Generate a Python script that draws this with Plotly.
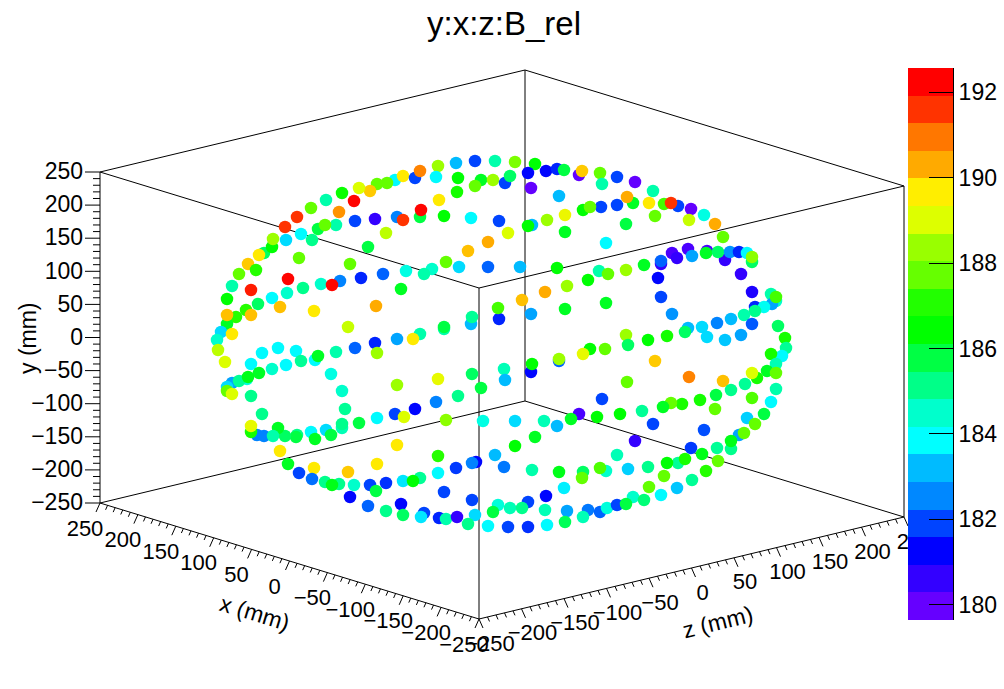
import plotly.graph_objects as go

TITLE = "y:x:z:B_rel"
FONT = "Liberation Sans"

# Points: position in the drawn oblique projection and B_rel value
proj_h = [
    395,397,403,387,377,370,359,342,354,326,
    311,339,297,355,375,403,318,336,325,285,
    301,386,312,286,264,272,273,368,259,299,
    248,350,256,239,288,340,361,383,406,
    415,420,438,436,456,475,495,515,535,528,
    546,557,564,579,582,600,602,458,481,493,
    475,505,510,457,531,559,439,420,421,444,
    471,499,601,583,590,565,547,532,528,508,
    565,488,468,446,606,432,459,488,520,557,
    599,608,424,588,
    617,635,653,617,633,627,649,678,664,671,
    691,704,655,626,689,715,723,707,688,672,
    677,692,706,725,718,730,739,747,752,752,
    661,661,644,626,658,741,
    232,251,227,272,287,303,321,332,401,280,
    314,376,258,246,236,227,227,251,348,221,
    232,217,218,225,375,397,355,377,336,296,
    278,262,315,318,301,286,251,272,247,232,
    239,259,248,227,227,232,251,331,342,397,
    345,395,262,
    545,567,522,499,498,531,565,606,471,472,
    444,444,420,413,590,605,583,559,559,531,
    532,504,505,472,481,438,458,436,415,602,
    752,771,776,661,772,755,764,776,755,744,
    731,717,752,672,688,702,685,707,725,741,
    778,785,786,782,771,776,626,628,648,667,
    655,627,689,723,757,767,776,752,745,731,
    716,700,682,671,663,715,752,776,771,642,
    620,764,
    404,377,359,342,342,326,311,331,315,297,
    296,285,278,257,264,273,251,251,280,397,
    288,314,377,348,299,312,325,339,332,354,
    370,386,403,376,350,401,368,386,403,
    446,483,515,544,557,579,571,597,535,515,
    495,438,476,472,456,504,532,559,583,582,
    606,600,438,420,413,444,564,472,546,528,
    498,510,522,493,545,567,588,600,607,424,
    421,439,446,457,475,468,488,508,528,547,
    565,583,
    653,704,739,744,747,755,731,731,717,635,
    691,702,678,685,718,667,617,648,628,706,
    664,692,677,649,661,633,644,617,626,
]
proj_v = [
    180,217,176,183,184,191,188,193,201,200,
    208,212,217,221,219,220,229,225,225,227,
    234,233,240,240,253,247,239,247,255,258,
    264,264,270,274,279,281,278,274,271,
    178,171,166,177,163,161,161,162,164,173,
    171,169,170,175,171,173,184,178,180,180,
    186,183,176,192,188,196,200,217,210,216,
    218,221,207,210,207,215,220,225,226,233,
    232,242,251,262,243,269,267,267,267,268,
    271,274,274,280,
    177,182,191,205,203,197,203,206,204,203,
    209,215,216,224,220,224,237,251,249,253,
    258,256,253,260,252,252,252,253,262,257,
    264,261,265,270,278,274,
    286,290,299,298,293,288,284,285,289,307,
    311,306,304,310,317,324,315,315,327,332,
    334,340,350,362,343,339,348,353,352,351,
    348,353,360,356,361,365,364,369,379,383,
    381,373,377,387,391,394,396,374,391,385,
    409,414,414,
    292,286,300,319,308,314,309,303,324,317,
    329,327,334,339,349,349,354,361,359,372,
    364,369,380,374,388,379,396,402,409,399,
    292,294,301,297,304,307,307,297,311,315,
    319,323,324,314,328,327,332,337,340,335,
    326,338,348,356,354,364,335,345,340,336,
    361,382,377,381,378,371,373,373,384,390,
    395,400,404,403,407,409,398,389,402,411,
    414,414,
    417,418,423,428,424,430,432,435,439,435,
    437,436,428,435,436,436,432,426,451,445,
    464,468,464,472,473,479,482,484,485,485,
    485,483,481,491,497,504,506,511,515,
    420,421,421,421,426,414,419,417,437,446,
    455,456,462,463,468,467,470,472,472,478,
    471,468,473,478,481,492,488,500,496,502,
    505,508,508,512,510,511,510,512,508,513,
    517,518,519,517,515,524,526,527,527,525,
    522,517,
    424,430,435,433,418,424,449,441,448,441,
    448,454,463,459,461,463,455,467,469,471,
    476,480,488,487,495,497,500,505,504,
]
B_rel = [
    183.8,182.5,189.7,187.7,187.7,190.0,189.0,186.6,192.2,184.8,
    187.7,190.6,191.6,181.9,180.6,191.6,185.8,184.8,187.7,191.6,
    183.8,188.7,185.1,183.5,185.5,186.4,188.4,185.8,189.7,187.7,
    190.0,187.7,187.1,187.7,192.2,182.5,181.6,182.2,184.2,
    181.9,190.8,188.4,183.8,183.2,181.9,184.8,188.0,186.4,181.3,
    181.3,181.6,185.8,180.0,190.0,187.7,184.8,186.4,186.1,188.4,
    187.7,181.9,185.5,186.8,180.0,183.2,189.7,185.8,192.2,186.4,
    183.8,181.9,181.9,186.4,187.7,189.3,188.4,183.2,186.4,189.0,
    186.1,190.3,190.1,187.7,183.8,184.5,183.5,182.2,183.2,186.4,
    184.8,187.7,184.8,186.4,
    181.9,180.0,184.8,181.9,186.1,190.3,189.7,181.9,187.4,191.6,
    180.0,184.2,187.7,185.8,188.8,190.3,187.7,180.3,180.3,180.3,
    180.6,182.9,186.1,180.6,185.5,182.7,181.6,183.8,185.5,188.2,
    180.6,182.2,186.1,188.4,181.3,180.6,
    184.8,191.9,186.4,183.8,184.5,185.1,184.5,192.2,186.1,190.1,
    189.7,190.3,185.5,187.1,187.1,186.1,190.1,190.1,188.8,183.5,
    189.7,184.5,188.7,189.0,181.6,182.9,182.2,188.4,184.8,183.8,
    183.8,183.8,183.8,186.1,185.0,183.8,183.8,184.5,184.2,182.9,
    185.0,186.1,186.2,183.5,187.7,189.0,185.1,184.2,184.5,188.4,
    185.0,181.9,185.1,
    190.3,188.4,190.1,181.6,187.4,182.9,186.1,186.1,183.2,185.0,
    184.8,185.8,184.8,189.7,186.4,187.7,189.2,182.2,188.4,181.3,
    186.4,184.7,183.2,185.5,185.8,189.2,185.1,182.5,181.3,181.9,
    180.9,184.8,184.5,181.9,182.9,181.6,184.0,187.4,185.1,184.8,
    183.2,182.5,182.1,182.7,183.2,183.5,185.5,183.5,183.3,182.9,
    185.5,186.8,185.0,183.8,186.8,184.7,188.4,185.5,186.4,186.8,
    190.0,187.7,190.8,190.1,186.8,186.1,187.7,189.0,185.0,185.1,
    185.8,186.8,186.9,187.7,186.1,187.7,187.5,184.8,183.8,185.0,
    186.4,185.8,
    189.0,183.8,185.8,184.7,185.1,183.5,183.8,185.8,186.1,185.1,
    185.8,185.5,186.1,182.5,182.5,184.8,186.8,189.2,189.7,189.7,
    186.1,189.7,189.7,190.0,181.9,182.3,185.1,185.1,186.2,184.5,
    181.9,181.7,183.6,185.8,181.3,181.3,182.2,185.1,185.5,
    188.2,184.2,183.5,184.7,183.2,180.3,186.1,186.4,186.1,186.4,
    183.2,187.1,181.3,182.5,181.8,182.4,184.8,186.2,185.5,187.7,
    184.5,187.5,183.8,185.0,186.4,181.9,183.7,181.9,181.3,181.9,
    184.3,184.7,185.1,185.8,184.7,182.9,182.4,182.2,184.3,181.9,
    183.6,181.6,184.8,180.6,183.5,185.1,183.8,181.9,181.7,183.8,
    185.6,184.7,
    181.9,182.0,182.9,187.7,183.4,187.7,185.1,186.2,185.0,180.6,
    181.8,186.2,185.0,186.9,187.7,186.4,184.7,185.1,183.4,187.1,
    187.7,185.0,183.3,187.7,183.8,184.5,185.3,181.9,185.8,
]
assert len(proj_h) == len(proj_v) == len(B_rel)

# Palette bands of the colour bar, bottom to top, and its value range
palette = ["#6600ff","#3300ff","#0000ff","#0044ff","#0088ff","#00bbff","#00ffff",
           "#00ffcc","#00ff88","#00ff44","#00ff00","#22ff00","#66ff00","#99ff00",
           "#ddff00","#ffee00","#ffaa00","#ff7700","#ff3300","#ff0000"]
B_min, B_max = 179.64, 192.57
bar_ticks = [180, 182, 184, 186, 188, 190, 192]
axis_major = [-250, -200, -150, -100, -50, 0, 50, 100, 150, 200, 250]
axis_minor = list(range(-250, 251, 10))


def project(x, y, z):
    a, c = (x + 250) / 500, (z + 250) / 500
    return (479 - 379 * a + 425 * c,
            619 - 116 * a - 102 * c - 331 * (y + 250) / 500)


def label(v):
    return str(v).replace("-", "\u2212")


def segs(pairs):
    xs, ys = [], []
    for (x0, y0), (x1, y1) in pairs:
        xs += [x0, x1, None]
        ys += [y0, y1, None]
    return xs, ys


fig = go.Figure()

# Box edges
L, H = -250, 250
edges = [
    (project(H, H, L), project(L, H, L)), (project(L, H, L), project(L, H, H)),
    (project(L, H, H), project(H, H, H)), (project(H, H, H), project(H, H, L)),
    (project(H, L, L), project(L, L, L)), (project(L, L, L), project(L, L, H)),
    (project(L, L, H), project(H, L, H)), (project(H, L, H), project(H, L, L)),
    (project(H, L, L), project(H, H, L)), (project(L, L, L), project(L, H, L)),
    (project(L, L, H), project(L, H, H)), (project(H, L, H), project(H, H, H)),
]
# Ticks
for v in axis_minor:
    major = v in axis_major
    f = 1.0 if major else 0.5
    p = project(v, L, L)
    edges.append((p, (p[0] - 4 * f, p[1] + 9 * f)))
    p = project(L, L, v)
    edges.append((p, (p[0] + 4 * f, p[1] + 9 * f)))
    p = project(H, v, L)
    edges.append((p, (p[0] - (15 if major else 7), p[1])))
ex, ey = segs(edges)
fig.add_trace(go.Scatter(x=ex, y=ey, mode="lines", line=dict(color="black", width=1),
                         hoverinfo="skip", showlegend=False))

# Tick labels
tick_font = dict(family=FONT, size=23, color="black")
base_font = dict(family=FONT, size=22, color="black")
lx, ly, lt = [], [], []
for v in axis_major:
    p = project(v, L, L)
    lx.append(p[0] - 15); ly.append(p[1] + 27); lt.append(label(v))
    p = project(L, L, v)
    lx.append(p[0] + 11); ly.append(p[1] + 26); lt.append(label(v))
fig.add_trace(go.Scatter(x=lx, y=ly, text=lt, mode="text", textposition="middle center",
                         textfont=base_font, hoverinfo="skip", showlegend=False, cliponaxis=False))
yx, yy, yt = [], [], []
for v in axis_major:
    p = project(H, v, L)
    yx.append(p[0] - 17); yy.append(p[1] + 1.5); yt.append(label(v))
fig.add_trace(go.Scatter(x=yx, y=yy, text=yt, mode="text", textposition="middle left",
                         textfont=tick_font, hoverinfo="skip", showlegend=False, cliponaxis=False))

# Points, coloured by B_rel through the palette
n = len(palette)
scale = [[0, palette[0]]] + [[(i + 0.5) / n, c] for i, c in enumerate(palette)] + [[1, palette[-1]]]
fig.add_trace(go.Scatter(x=proj_h, y=proj_v, mode="markers", showlegend=False, cliponaxis=False,
                         marker=dict(size=12.5, color=B_rel, cmin=B_min, cmax=B_max,
                                     colorscale=scale, line=dict(width=0), showscale=False)))

# Colour bar as a banded heatmap on its own axes
step = (B_max - B_min) / n
band_edges = [B_min + i * step for i in range(n + 1)]
band_vals = [[B_min + (i + 0.5) * step] for i in range(n)]
band_scale = []
for i, c in enumerate(palette):
    band_scale += [[i / n, c], [(i + 1) / n, c]]
fig.add_trace(go.Heatmap(x=[0, 1], y=band_edges, z=band_vals, xaxis="x2", yaxis="y2",
                         colorscale=band_scale, zmin=B_min, zmax=B_max, showscale=False,
                         hoverinfo="skip"))

W, Ht = 1004, 689
fig.update_layout(
    width=W, height=Ht, margin=dict(l=0, r=0, t=0, b=0, pad=0),
    paper_bgcolor="white", plot_bgcolor="white", showlegend=False,
    font=dict(family=FONT, size=23, color="black"),
    xaxis=dict(domain=[0, 1], range=[0, W], visible=False, fixedrange=True),
    yaxis=dict(domain=[0, 1], range=[Ht, 0], visible=False, fixedrange=True),
    xaxis2=dict(domain=[908 / W, 953 / W], range=[0, 1], visible=False, anchor="y2", fixedrange=True),
    yaxis2=dict(domain=[(Ht - 620) / Ht, (Ht - 68) / Ht], range=[B_min, B_max], anchor="x2", side="right",
                tickmode="array", tickvals=bar_ticks, ticktext=[str(t) for t in bar_ticks],
                ticks="inside", ticklen=24, tickwidth=1, tickcolor="black", showgrid=False, zeroline=False,
                showline=True, linecolor="black", linewidth=1, fixedrange=True,
                tickfont=dict(family=FONT, size=23, color="black")),
    annotations=[
        dict(text=TITLE, x=503.5 / W, y=1 - 24 / Ht, xref="paper", yref="paper", showarrow=False,
             xanchor="center", yanchor="middle", font=dict(family=FONT, size=33, color="black")),
        dict(text="y (mm)", x=28, y=338, xref="x", yref="y", showarrow=False, textangle=-90,
             font=tick_font),
        dict(text="x (mm)", x=255, y=613, xref="x", yref="y", showarrow=False, textangle=17,
             font=tick_font),
        dict(text="z (mm)", x=718, y=622, xref="x", yref="y", showarrow=False, textangle=-14,
             font=tick_font),
    ],
)

fig.write_html("out.html", config={"displayModeBar": False},
               post_script="document.body.style.margin='0';document.documentElement.style.overflow='hidden';")
